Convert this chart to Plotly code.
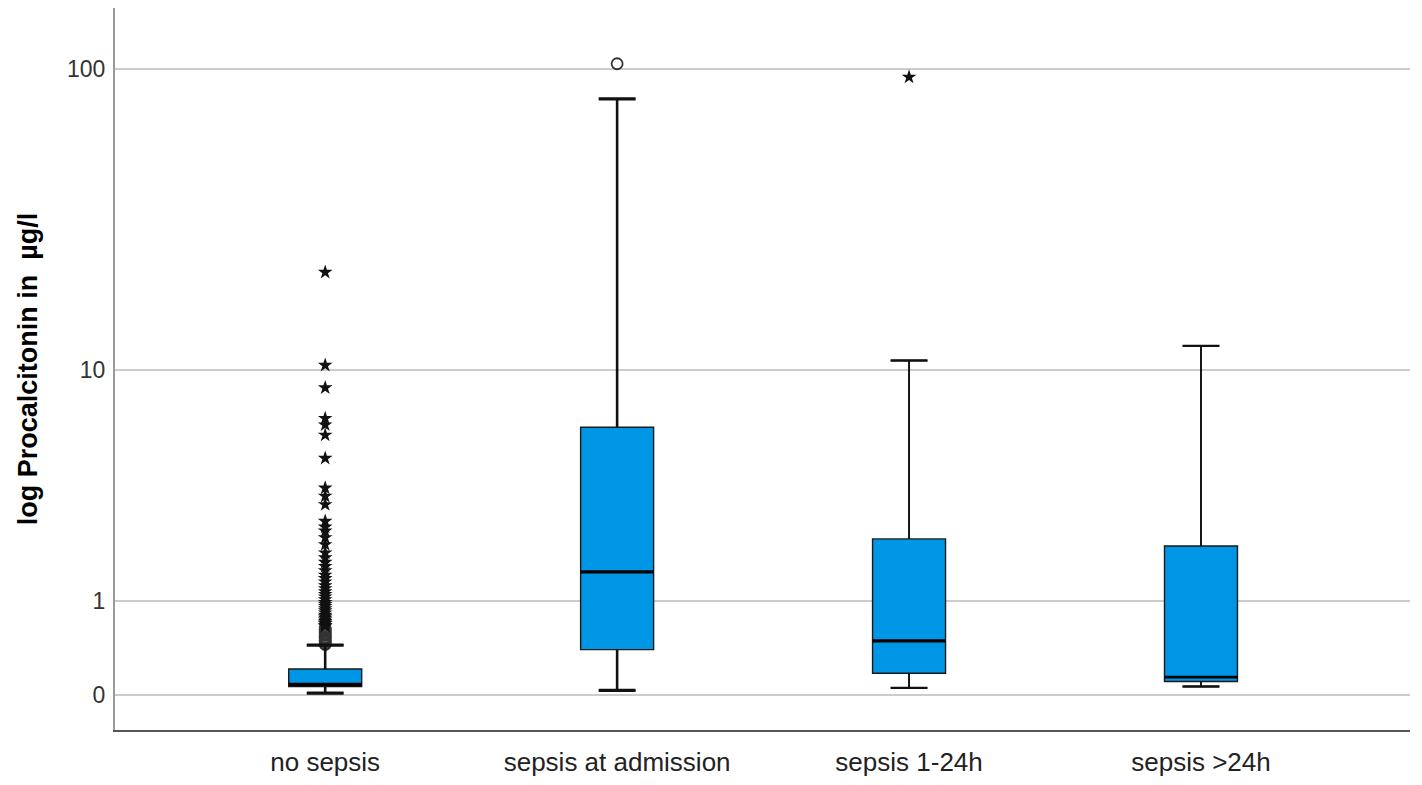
import numpy as np
import plotly.graph_objects as go

# Procalcitonin (µg/l) by sepsis onset group
groups = ["no sepsis", "sepsis at admission", "sepsis 1-24h", "sepsis >24h"]
q1 = [0.064, 0.396, 0.173, 0.104]
median = [0.079, 1.476, 0.49, 0.139]
q3 = [0.21, 6.2, 2.16, 2.0]
lower_whisker = [0.0125, 0.033, 0.053, 0.064]
upper_whisker = [0.444, 80.2, 10.78, 12.13]

# outliers (circles) and extreme values (stars)
outliers = {
    "no sepsis": [0.45, 0.46, 0.48, 0.49, 0.5, 0.52, 0.53, 0.55, 0.57, 0.58, 0.6, 0.62, 0.64],
    "sepsis at admission": [104.2],
}
extremes = {
    "no sepsis": [0.66, 0.67, 0.69, 0.7, 0.72, 0.74, 0.76, 0.78, 0.8, 0.83, 0.86, 0.89,
                  0.92, 0.95, 0.98, 1.02, 1.06, 1.1, 1.14, 1.19, 1.24, 1.3, 1.36, 1.42,
                  1.5, 1.58, 1.66, 1.75, 1.85, 2.03, 2.19, 2.35, 2.45, 2.6, 3.07, 3.33,
                  3.6, 4.73, 5.8, 6.33, 6.69, 8.64, 10.38, 21.6],
    "sepsis 1-24h": [94.4],
}

tick_values = [0, 1, 10, 100]
tick_labels = ["0", "1", "10", "100"]

# styling
whisker_widths = [2.6, 2.6, 1.8, 1.8]
median_widths = [3.4, 3.2, 3.2, 2.8]
box_fill = "rgb(0,150,230)"
box_half = 0.125
cap_half = 0.063


def tr(v):
    """log10(x + 1) transform used for the vertical axis."""
    return np.log10(np.asarray(v, dtype=float) + 1.0)


fig = go.Figure()

for i, g in enumerate(groups):
    fig.add_trace(go.Box(
        x=[g], q1=[tr(q1[i])], median=[tr(median[i])], q3=[tr(q3[i])],
        lowerfence=[tr(lower_whisker[i])], upperfence=[tr(upper_whisker[i])],
        width=2 * box_half, whiskerwidth=cap_half / box_half,
        fillcolor=box_fill, line=dict(color="#1a1a1a", width=1.4),
        boxpoints=False, hoverinfo="skip", showlegend=False,
    ))

shapes = []
for i, g in enumerate(groups):
    lw = whisker_widths[i]
    col = "#111111"
    # whisker stems
    shapes.append(dict(type="line", xref="x", yref="y", x0=i, x1=i,
                       y0=tr(q3[i]), y1=tr(upper_whisker[i]), line=dict(color=col, width=lw)))
    shapes.append(dict(type="line", xref="x", yref="y", x0=i, x1=i,
                       y0=tr(lower_whisker[i]), y1=tr(q1[i]), line=dict(color=col, width=lw)))
    # caps
    for w in (upper_whisker[i], lower_whisker[i]):
        shapes.append(dict(type="line", xref="x", yref="y", x0=i - cap_half, x1=i + cap_half,
                           y0=tr(w), y1=tr(w), line=dict(color=col, width=lw + 0.6)))
    # median
    shapes.append(dict(type="line", xref="x", yref="y", x0=i - box_half, x1=i + box_half,
                       y0=tr(median[i]), y1=tr(median[i]),
                       line=dict(color="#000000", width=median_widths[i])))

for g, vals in outliers.items():
    fig.add_trace(go.Scatter(
        x=[g] * len(vals), y=tr(vals), mode="markers",
        marker=dict(symbol="circle-open", size=11, color="#333333", line=dict(width=1.8)),
        hoverinfo="skip", showlegend=False,
    ))
for g, vals in extremes.items():
    fig.add_trace(go.Scatter(
        x=[g] * len(vals), y=tr(vals), mode="markers",
        marker=dict(symbol="star", size=11, color="#111111", line=dict(width=0)),
        hoverinfo="skip", showlegend=False,
    ))

fig.update_layout(
    width=1422, height=785,
    margin=dict(l=115, r=12, t=8, b=51),
    paper_bgcolor="white", plot_bgcolor="white",
    font=dict(family="Liberation Sans, Arial, sans-serif", color="#222222"),
    shapes=shapes,
    xaxis=dict(
        type="category", categoryorder="array", categoryarray=groups,
        range=[-0.72, 3.716], showgrid=False, zeroline=False,
        showline=True, linecolor="#555555", linewidth=2,
        ticks="", tickfont=dict(size=26, color="#222222"),
        ticklabelstandoff=8,
    ),
    yaxis=dict(
        range=[-0.1126, 2.2007], tickmode="array",
        tickvals=list(tr(tick_values)), ticktext=tick_labels,
        showgrid=True, gridcolor="#cccccc", gridwidth=2, zeroline=False,
        showline=True, linecolor="#999999", linewidth=2,
        ticks="", tickfont=dict(size=23, color="#333333"),
        ticklabelstandoff=3,
        title=dict(text="<b>log Procalcitonin in\u00a0 µg/l</b>",
                   font=dict(size=27, color="#000000"), standoff=22),
    ),
)

fig.write_html("out.html")
